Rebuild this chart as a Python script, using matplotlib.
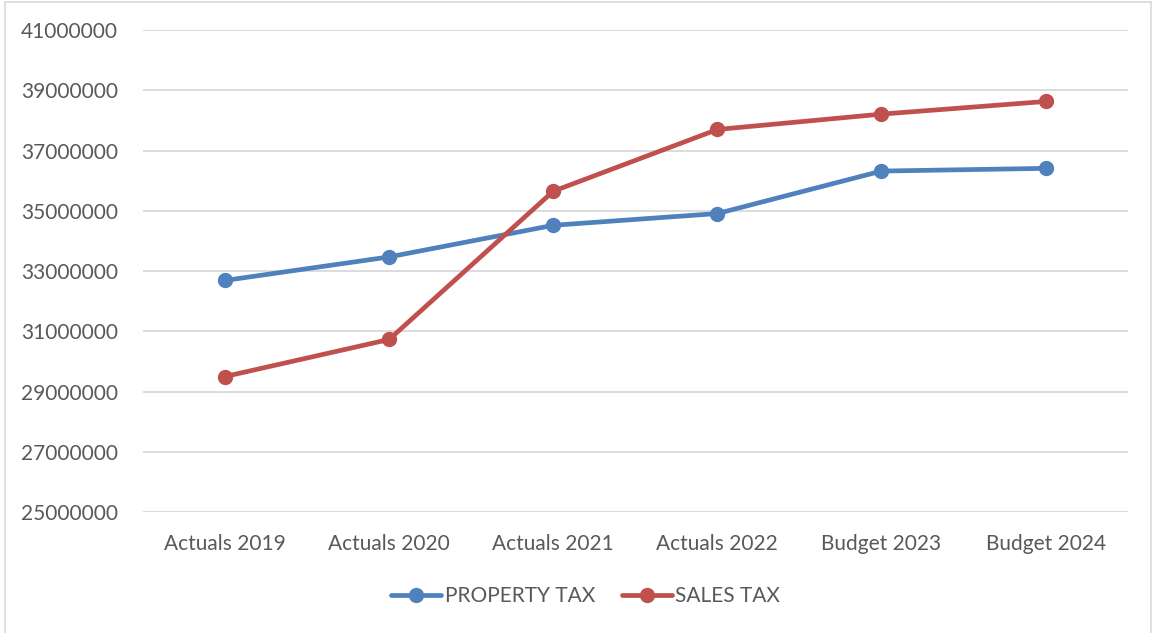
import matplotlib.pyplot as plt
from matplotlib.patches import Rectangle

# Data
categories = ["Actuals 2019", "Actuals 2020", "Actuals 2021",
              "Actuals 2022", "Budget 2023", "Budget 2024"]
property_tax = [32690000, 33470000, 34520000, 34910000, 36320000, 36410000]
sales_tax = [29500000, 30730000, 35650000, 37700000, 38210000, 38630000]
y_ticks = list(range(25000000, 41000001, 2000000))

blue = "#4F81BD"
red = "#C0504D"
grey_text = "#595959"
grid_col = "#D9D9D9"

plt.rcParams['font.family'] = ['Lato', 'DejaVu Sans']

fig = plt.figure(figsize=(11.53, 6.33), dpi=100)
ax = fig.add_axes([0.124, 0.191, 0.854, 0.7615])

x = list(range(len(categories)))
ax.plot(x, property_tax, color=blue, lw=3.4, marker='o', markersize=10,
        label="PROPERTY TAX", solid_capstyle='round')
ax.plot(x, sales_tax, color=red, lw=3.4, marker='o', markersize=10,
        label="SALES TAX", solid_capstyle='round')

ax.set_xlim(-0.5, len(categories) - 0.5)
ax.set_ylim(25000000, 41000000)
ax.set_yticks(y_ticks)
ax.set_yticklabels([str(v) for v in y_ticks])
ax.set_xticks(x)
ax.set_xticklabels(categories)

ax.grid(axis='y', color=grid_col, lw=1.3)
ax.set_axisbelow(True)
for s in ax.spines.values():
    s.set_visible(False)
ax.tick_params(axis='both', length=0, colors=grey_text, labelsize=15)
ax.tick_params(axis='y', pad=18)
ax.tick_params(axis='x', pad=15.5)

leg = fig.legend(loc='center', bbox_to_anchor=(0.508, 0.058), ncol=2, frameon=False,
                 fontsize=15, handlelength=2.4, columnspacing=1.3, handletextpad=0.15)
for t in leg.get_texts():
    t.set_color(grey_text)

# light chart border
fig.patches.append(Rectangle((0.004, -0.01), 0.994, 1.007, transform=fig.transFigure,
                             fill=False, edgecolor=grid_col, lw=1.2))

fig.savefig("out.png", dpi=100)
